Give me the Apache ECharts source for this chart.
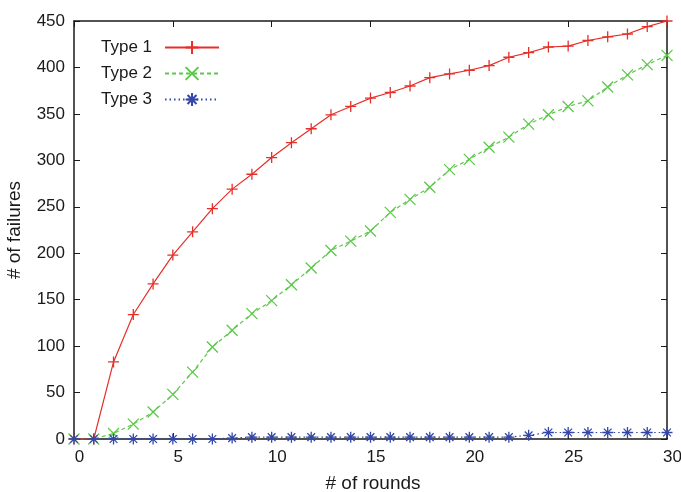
<!DOCTYPE html>
<html>
<head>
<meta charset="utf-8">
<script src="https://cdn.jsdelivr.net/npm/echarts@6/dist/echarts.min.js"></script>
<style>html,body{margin:0;padding:0;background:#fff;overflow:hidden}#c{width:100vw;height:100vh}</style>
</head>
<body>
<div id="c"></div>
<script>
var rounds = [0,1,2,3,4,5,6,7,8,9,10,11,12,13,14,15,16,17,18,19,20,21,22,23,24,25,26,27,28,29,30];
var type1 = [0,0,83,134,167,198,223,248,269,285,303,319,334,349,358,367,373,380,389,393,397,402,411,416,422,423,429,433,436,444,450];
var type2 = [0,0,6,16,29,48,72,99,117,135,149,166,184,203,213,224,244,258,271,290,301,314,325,339,349,358,364,379,392,403,413];
var type3 = [0,0,0,0,0,0,0,0,1,2,2,2,2,2,2,2,2,2,2,2,2,2,2,4,7,7,7,7,7,7,7];
var seriesNames = ['Type 1','Type 2','Type 3'];
var xTicks = {min:0, max:30, interval:5};
var yTicks = {min:0, max:450, interval:50};

function pairs(v){ return rounds.map(function(r,i){ return [r, v[i]]; }); }

var FONT = 'Liberation Sans';
var plusSym = 'path://M0,5L10,5M5,0L5,10';
var crossSym = 'path://M0,0L10,10M10,0L0,10';
var starSym = 'path://M0,5L10,5M5,0L5,10M1.5,1.5L8.5,8.5M8.5,1.5L1.5,8.5';

var axisCommon = {
  axisLine:{show:true, onZero:false, lineStyle:{color:'#1a1a1a', width:1.5}},
  axisTick:{show:true, inside:true, length:6, lineStyle:{color:'#1a1a1a', width:1}},
  splitLine:{show:false}
};
function mk(base, extra){ var o = JSON.parse(JSON.stringify(base)); for (var k in extra) o[k]=extra[k]; return o; }

var el = document.getElementById('c');
var chart = echarts.init(el, null, {renderer:'canvas'});
chart.setOption({
  animation:false,
  backgroundColor:'#fff',
  grid:{left:74, right:14, top:21, bottom:53, containLabel:false, outerBoundsMode:'none'},
  legend:{
    data:seriesNames, orient:'vertical', left:96, top:34, align:'right',
    itemWidth:54, itemHeight:16, itemGap:9,
    textStyle:{fontFamily:FONT, fontSize:17, color:'#1a1a1a', padding:[0,8,0,0]}
  },
  xAxis:[
    mk(axisCommon,{type:'value', position:'bottom', min:xTicks.min, max:xTicks.max, interval:xTicks.interval,
      name:'# of rounds', nameLocation:'middle', nameGap:35,
      nameTextStyle:{fontFamily:FONT, fontSize:19, color:'#1a1a1a', padding:[0,0,0,5]},
      axisLabel:{fontFamily:FONT, fontSize:17, color:'#1a1a1a', margin:10, padding:[0,0,0,11]}}),
    mk(axisCommon,{type:'value', position:'top', min:xTicks.min, max:xTicks.max, interval:xTicks.interval,
      axisLabel:{show:false}})
  ],
  yAxis:[
    mk(axisCommon,{type:'value', position:'left', min:yTicks.min, max:yTicks.max, interval:yTicks.interval,
      name:'# of failures', nameLocation:'middle', nameGap:50, nameRotate:90,
      nameTextStyle:{fontFamily:FONT, fontSize:19, color:'#1a1a1a'},
      axisLabel:{fontFamily:FONT, fontSize:17, color:'#1a1a1a', margin:9}}),
    mk(axisCommon,{type:'value', position:'right', min:yTicks.min, max:yTicks.max, interval:yTicks.interval,
      axisLabel:{show:false}})
  ],
  series:[
    {name:seriesNames[0], type:'line', data:pairs(type1), symbol:plusSym, symbolSize:11, showAllSymbol:true,
      itemStyle:{color:'#e5302a', borderColor:'#e5302a', borderWidth:1.3},
      lineStyle:{color:'#e5302a', width:1.2, type:'solid'}, z:3},
    {name:seriesNames[1], type:'line', data:pairs(type2), symbol:crossSym, symbolSize:11, showAllSymbol:true,
      itemStyle:{color:'#5cc84a', borderColor:'#5cc84a', borderWidth:1.3},
      lineStyle:{color:'#5cc84a', width:1.2, type:[4,3]}, z:2},
    {name:seriesNames[2], type:'line', data:pairs(type3), symbol:starSym, symbolSize:11, showAllSymbol:true,
      itemStyle:{color:'#3347a8', borderColor:'#3347a8', borderWidth:1.3},
      lineStyle:{color:'#3347a8', width:1.2, type:[1.5,3]}, z:4}
  ]
});
</script>
</body>
</html>
